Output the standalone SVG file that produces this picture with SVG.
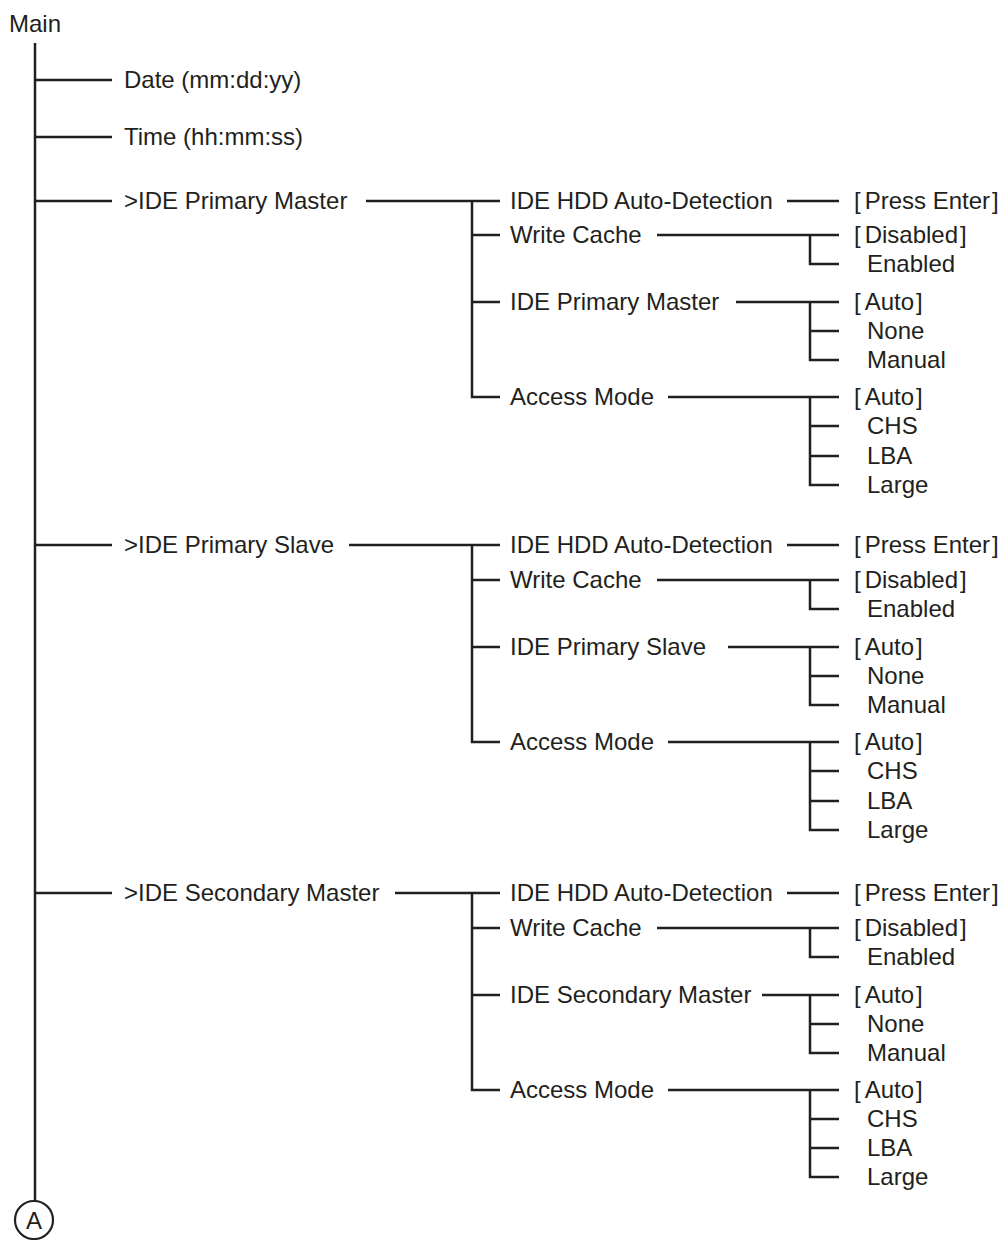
<svg xmlns="http://www.w3.org/2000/svg" width="1001" height="1240" viewBox="0 0 1001 1240">
<style>
text{font-family:"Liberation Sans",Arial,sans-serif;font-size:24px;fill:#231f20}
.c path{fill:none;stroke:#231f20;stroke-width:2.5;stroke-linejoin:miter}
.ring{fill:none;stroke:#231f20;stroke-width:2.2}
</style>
<rect width="1001" height="1240" fill="#fff"/>
<g class="c" id="connectors">
<path d="M35 43V1201"/>
<path d="M35 80H112M35 137H112M35 201H112M35 545H112M35 893H112"/>
<path d="M366 201H500M472 201V397H500M472 235H500M472 302H500"/>
<path d="M787 201H839M657 235H839M810 235V264H839M736 302H839M810 302V360H839M810 331H839M668 397H839M810 397V485H839M810 426H839M810 456H839"/>
<path d="M349 545H500M472 545V742H500M472 580H500M472 647H500"/>
<path d="M787 545H839M657 580H839M810 580V609H839M728 647H839M810 647V705H839M810 676H839M668 742H839M810 742V830H839M810 771H839M810 801H839"/>
<path d="M395 893H500M472 893V1090H500M472 928H500M472 995H500"/>
<path d="M787 893H839M657 928H839M810 928V957H839M762 995H839M810 995V1053H839M810 1024H839M668 1090H839M810 1090V1177H839M810 1119H839M810 1148H839"/>
</g>
<g id="main"><text x="9" y="32">Main</text></g>
<g id="date"><text x="124" y="88">Date (mm:dd:yy)</text></g>
<g id="time"><text x="124" y="145">Time (hh:mm:ss)</text></g>
<g id="pm"><text x="124" y="209">&gt;IDE Primary Master</text></g>
<g id="ps"><text x="124" y="553">&gt;IDE Primary Slave</text></g>
<g id="sm"><text x="124" y="901">&gt;IDE Secondary Master</text></g>
<g id="connector-a"><circle class="ring" cx="34" cy="1220" r="19"/><text x="34" y="1229" text-anchor="middle">A</text></g>

<g id="pm-sub">
<text x="510" y="209">IDE HDD Auto-Detection</text>
<text x="510" y="243">Write Cache</text>
<text x="510" y="310">IDE Primary Master</text>
<text x="510" y="405">Access Mode</text>
</g>
<g id="pm-opts">
<text x="854" y="209">[<tspan dx="4">Press Enter</tspan><tspan dx="2">]</tspan></text>
<text x="854" y="243">[<tspan dx="4">Disabled</tspan><tspan dx="2">]</tspan></text>
<text x="867" y="272">Enabled</text>
<text x="854" y="310">[<tspan dx="4">Auto</tspan><tspan dx="2">]</tspan></text>
<text x="867" y="339">None</text>
<text x="867" y="368">Manual</text>
<text x="854" y="405">[<tspan dx="4">Auto</tspan><tspan dx="2">]</tspan></text>
<text x="867" y="434">CHS</text>
<text x="867" y="464">LBA</text>
<text x="867" y="493">Large</text>
</g>

<g id="ps-sub">
<text x="510" y="553">IDE HDD Auto-Detection</text>
<text x="510" y="588">Write Cache</text>
<text x="510" y="655">IDE Primary Slave</text>
<text x="510" y="750">Access Mode</text>
</g>
<g id="ps-opts">
<text x="854" y="553">[<tspan dx="4">Press Enter</tspan><tspan dx="2">]</tspan></text>
<text x="854" y="588">[<tspan dx="4">Disabled</tspan><tspan dx="2">]</tspan></text>
<text x="867" y="617">Enabled</text>
<text x="854" y="655">[<tspan dx="4">Auto</tspan><tspan dx="2">]</tspan></text>
<text x="867" y="684">None</text>
<text x="867" y="713">Manual</text>
<text x="854" y="750">[<tspan dx="4">Auto</tspan><tspan dx="2">]</tspan></text>
<text x="867" y="779">CHS</text>
<text x="867" y="809">LBA</text>
<text x="867" y="838">Large</text>
</g>

<g id="sm-sub">
<text x="510" y="901">IDE HDD Auto-Detection</text>
<text x="510" y="936">Write Cache</text>
<text x="510" y="1003">IDE Secondary Master</text>
<text x="510" y="1098">Access Mode</text>
</g>
<g id="sm-opts">
<text x="854" y="901">[<tspan dx="4">Press Enter</tspan><tspan dx="2">]</tspan></text>
<text x="854" y="936">[<tspan dx="4">Disabled</tspan><tspan dx="2">]</tspan></text>
<text x="867" y="965">Enabled</text>
<text x="854" y="1003">[<tspan dx="4">Auto</tspan><tspan dx="2">]</tspan></text>
<text x="867" y="1032">None</text>
<text x="867" y="1061">Manual</text>
<text x="854" y="1098">[<tspan dx="4">Auto</tspan><tspan dx="2">]</tspan></text>
<text x="867" y="1127">CHS</text>
<text x="867" y="1156">LBA</text>
<text x="867" y="1185">Large</text>
</g>
</svg>
